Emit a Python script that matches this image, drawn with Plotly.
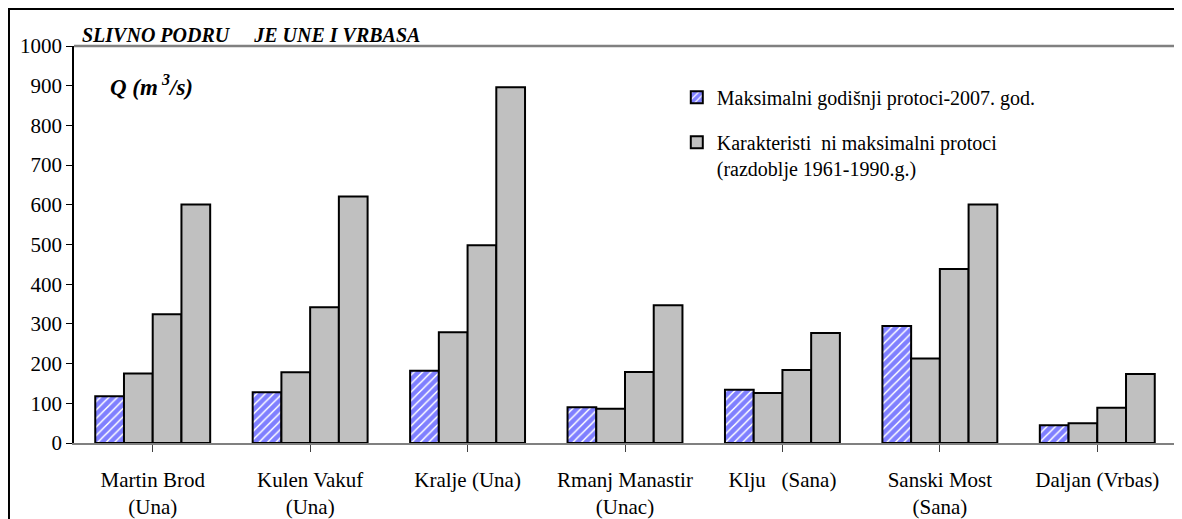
import plotly.graph_objects as go

categories = ["Martin Brod<br>(Una)", "Kulen Vakuf<br>(Una)", "Kralje (Una)", "Rmanj Manastir<br>(Unac)",
              "Klju\u00a0\u00a0 (Sana)", "Sanski Most<br>(Sana)", "Daljan (Vrbas)"]
max_2007 = [118, 128, 182, 90, 134, 295, 45]
char_1 = [175, 178, 279, 86, 126, 213, 50]
char_2 = [324, 342, 498, 179, 184, 438, 89]
char_3 = [601, 621, 896, 347, 277, 601, 174]
name_2007 = "Maksimalni godišnji protoci-2007. god."
name_char = "Karakteristi\u00a0\u00a0ni maksimalni protoci<br>(razdoblje 1961-1990.g.)"
title_text = "SLIVNO PODRU\u00a0\u00a0\u00a0\u00a0 JE UNE I VRBASA"
y_label = "Q (m<sup> 3</sup>/s)"

FONT = "Liberation Serif"
x_idx = list(range(len(categories)))

fig = go.Figure()
fig.add_trace(go.Bar(
    x=x_idx, y=max_2007, name=name_2007, legendgroup="a",
    marker=dict(color="white", line=dict(color="black", width=2),
                pattern=dict(shape="/", fgcolor="#0000FF", bgcolor="white", size=6, solidity=0.75)),
))
for i, vals in enumerate([char_1, char_2, char_3]):
    fig.add_trace(go.Bar(
        x=x_idx, y=vals, name=name_char, legendgroup="b", showlegend=(i == 0),
        marker=dict(color="#C0C0C0", line=dict(color="black", width=2)),
    ))

fig.update_layout(
    width=1174, height=511,
    margin=dict(l=66, r=6, t=38, b=76, autoexpand=False),
    paper_bgcolor="white", plot_bgcolor="white",
    font=dict(family=FONT, size=20, color="black"),
    barmode="group", bargap=0.27, bargroupgap=0,
    showlegend=True,
    legend=dict(x=0.547, y=0.92, xanchor="left", yanchor="top", bgcolor="rgba(0,0,0,0)",
                font=dict(family=FONT, size=20, color="black"), valign="top",
                tracegroupgap=16, itemwidth=30),
    xaxis=dict(tickmode="array", tickvals=x_idx, ticktext=categories,
               range=[-0.5, len(categories) - 0.5], automargin=False,
               showline=True, linecolor="#808080", linewidth=1.5,
               ticks="outside", tickson="boundaries", ticklen=7, tickcolor="#404040",
               showgrid=False, ticklabelstandoff=10,
               tickfont=dict(family=FONT, size=21, color="black")),
    yaxis=dict(range=[0, 1000], dtick=100, showline=True, linecolor="black", linewidth=1.5,
               automargin=False,
               ticks="outside", ticklen=6, tickcolor="black", showgrid=False, zeroline=False,
               tickfont=dict(family=FONT, size=21, color="black")),
    shapes=[
        dict(type="line", xref="paper", yref="paper", x0=0, x1=1, y0=1, y1=1,
             line=dict(color="#808080", width=2.5)),
        dict(type="line", xref="paper", yref="paper", x0=1, x1=1, y0=0, y1=1,
             line=dict(color="#808080", width=2.5)),
        dict(type="path", xref="paper", yref="paper",
             path="M 1.2 1.0932 L -0.059 1.0932 L -0.059 -0.4",
             line=dict(color="black", width=2)),
    ],
    annotations=[
        dict(text="<b><i>" + title_text + "</i></b>", xref="paper", yref="paper",
             x=0.005, y=0.995, xanchor="left", yanchor="bottom", showarrow=False,
             font=dict(family=FONT, size=20, color="black")),
        dict(text="<b><i>" + y_label + "</i></b>", xref="paper", yref="paper",
             x=0.031, y=0.90, xanchor="left", yanchor="middle", showarrow=False,
             font=dict(family=FONT, size=23, color="black")),
    ],
)

fig.write_html("out.html")
